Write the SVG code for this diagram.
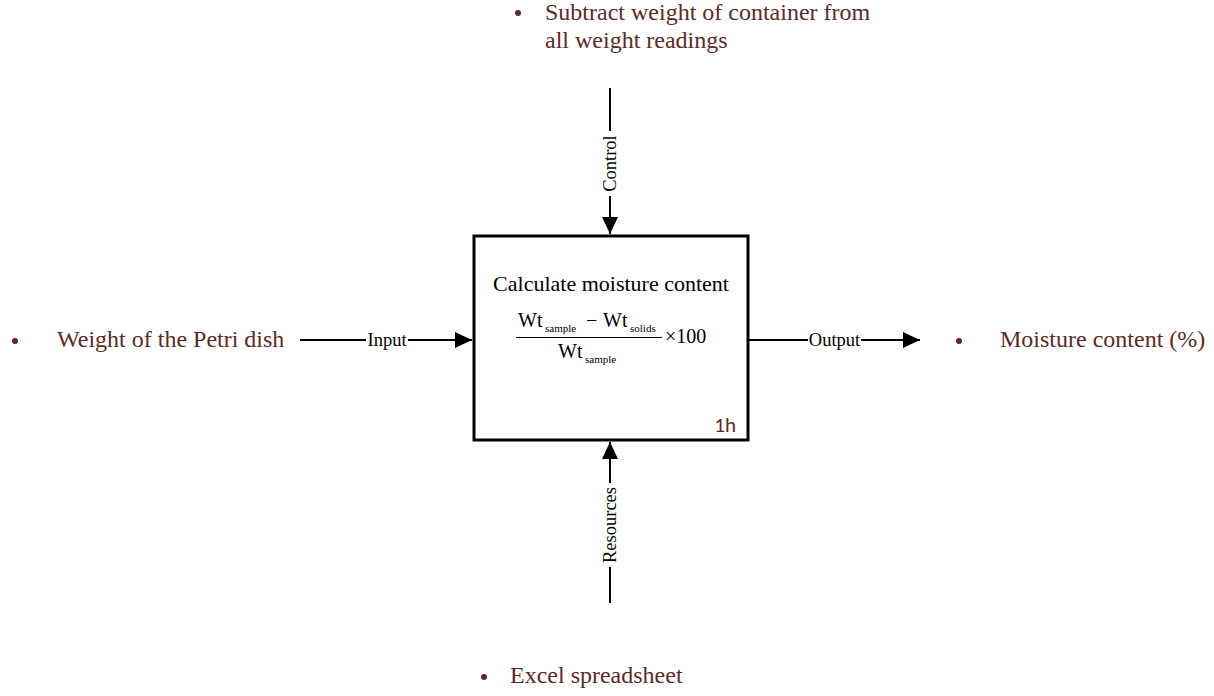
<svg xmlns="http://www.w3.org/2000/svg" width="1214" height="696" viewBox="0 0 1214 696">
<style>
.lbl{font-family:"Liberation Serif","Times New Roman",serif;font-size:24px;fill:#5b2b28}
.ser{font-family:"Liberation Serif","Times New Roman",serif;fill:#000}
.conn{stroke:#000;stroke-width:2;fill:none}
.arrowlbl{font-family:"Liberation Serif","Times New Roman",serif;font-size:18.5px;fill:#000}
</style>
<defs>
<marker id="ah" viewBox="0 0 17 16" refX="17" refY="8" markerWidth="17" markerHeight="16" markerUnits="userSpaceOnUse" orient="auto">
<path d="M0,0 L17,8 L0,16 Z" fill="#000"/>
</marker>
</defs>
<rect width="1214" height="696" fill="#fff"/>
<g id="connectors">
<line class="conn" x1="300" y1="340" x2="472" y2="340" marker-end="url(#ah)"/>
<line class="conn" x1="749" y1="340" x2="920" y2="340" marker-end="url(#ah)"/>
<line class="conn" x1="610" y1="88" x2="610" y2="234" marker-end="url(#ah)"/>
<line class="conn" x1="610" y1="603" x2="610" y2="442" marker-end="url(#ah)"/>
<rect x="366" y="330" width="42" height="20" fill="#fff"/>
<text class="arrowlbl" x="387" y="346" text-anchor="middle">Input</text>
<rect x="808" y="330" width="53" height="20" fill="#fff"/>
<text class="arrowlbl" x="834.5" y="346" text-anchor="middle">Output</text>
<rect x="600" y="131" width="20" height="65" fill="#fff"/>
<text class="arrowlbl" transform="translate(616,163.5) rotate(-90)" text-anchor="middle">Control</text>
<rect x="600" y="483" width="20" height="84" fill="#fff"/>
<text class="arrowlbl" transform="translate(616,525) rotate(-90)" text-anchor="middle">Resources</text>
</g>
<g id="process">
<rect x="474" y="236" width="274" height="204" fill="#fff" stroke="#000" stroke-width="3"/>
<text class="ser" x="611" y="291" font-size="22" text-anchor="middle">Calculate moisture content</text>
<text class="ser" x="518" y="327" font-size="20">Wt</text>
<text class="ser" x="545" y="332" font-size="11">sample</text>
<text class="ser" x="586" y="327" font-size="20">−</text>
<text class="ser" x="603" y="327" font-size="20">Wt</text>
<text class="ser" x="630" y="332" font-size="11">solids</text>
<line x1="516" y1="337.5" x2="662" y2="337.5" stroke="#000" stroke-width="1.2"/>
<text class="ser" x="558" y="358" font-size="20">Wt</text>
<text class="ser" x="585" y="363" font-size="11">sample</text>
<text class="ser" x="665" y="343" font-size="20">×100</text>
<text x="736" y="432" font-family="Carlito,'Open Sans','Noto Sans',sans-serif" font-size="21" fill="#5b2b28" text-anchor="end">1h</text>
</g>
<g id="control-text">
<circle cx="518" cy="13" r="3" fill="#5b2b28"/>
<text class="lbl" x="545" y="20">Subtract weight of container from</text>
<text class="lbl" x="545" y="48">all weight readings</text>
</g>
<g id="input-text">
<circle cx="15" cy="341" r="3" fill="#5b2b28"/>
<text class="lbl" x="57" y="347">Weight of the Petri dish</text>
</g>
<g id="output-text">
<circle cx="959" cy="341" r="3" fill="#5b2b28"/>
<text class="lbl" x="1000" y="347">Moisture content (%)</text>
</g>
<g id="resource-text">
<circle cx="484" cy="677" r="3" fill="#5b2b28"/>
<text class="lbl" x="510" y="683">Excel spreadsheet</text>
</g>
</svg>
